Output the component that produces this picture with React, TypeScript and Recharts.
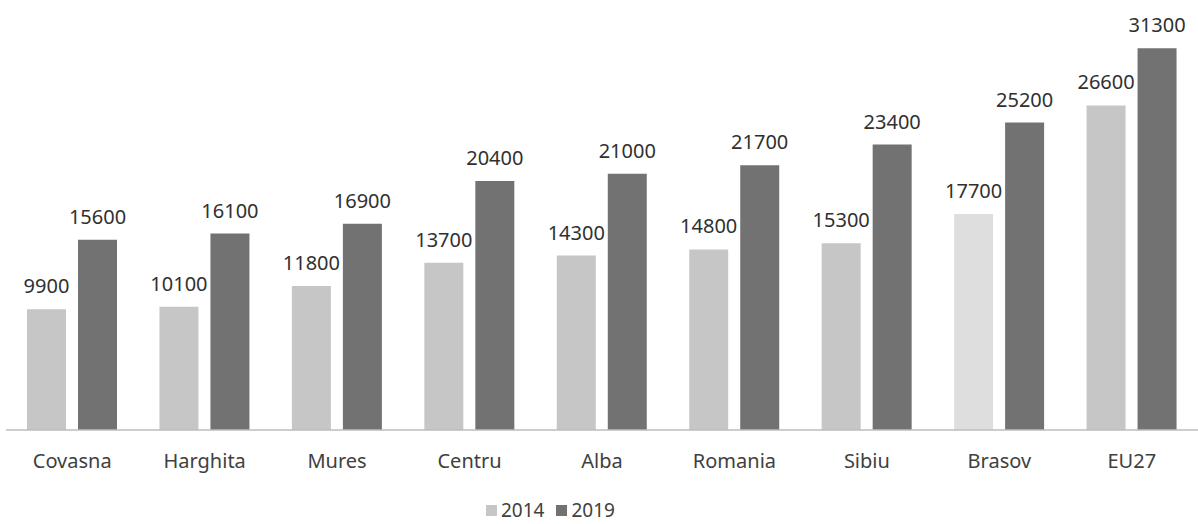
import React from "react";
import { BarChart, Bar, XAxis, YAxis, Legend, LabelList, Cell } from "recharts";

const categories = ["Covasna", "Harghita", "Mures", "Centru", "Alba", "Romania", "Sibiu", "Brasov", "EU27"];
const values2014 = [9900, 10100, 11800, 13700, 14300, 14800, 15300, 17700, 26600];
const values2019 = [15600, 16100, 16900, 20400, 21000, 21700, 23400, 25200, 31300];

const data = categories.map((c, i) => ({ name: c, y2014: values2014[i], y2019: values2019[i] }));

const FONT = "'Noto Sans', 'Open Sans', sans-serif";
const C2014 = "#c6c6c6";
const C2019 = "#727272";
const lightCols2014 = categories.map((c) => (c === "Brasov" ? "#dedede" : C2014));

const LegendContent = () => (
  <div
    style={{
      display: "flex",
      alignItems: "center",
      height: 20,
      lineHeight: "20px",
      fontFamily: FONT,
      fontSize: 19,
      color: "#404040",
    }}
  >
    <span style={{ display: "inline-block", width: 11, height: 11, background: C2014, marginRight: 4 }} />
    <span style={{ marginRight: 12 }}>2014</span>
    <span style={{ display: "inline-block", width: 11, height: 11, background: C2019, marginRight: 4 }} />
    <span>2019</span>
  </div>
);

export default function App() {
  return (
    <div style={{ position: "absolute", left: 0, top: 0, background: "#fff" }}>
      <BarChart
        width={1198}
        height={524}
        data={data}
        margin={{ top: 3, right: 0, left: 6, bottom: 0 }}
        barSize={39}
        barGap={12}
      >
        <XAxis
          dataKey="name"
          axisLine={{ stroke: "#bdbdbd", strokeWidth: 1.5 }}
          tickLine={false}
          tickMargin={18}
          height={74}
          tick={{ fill: "#404040", fontSize: 20, fontFamily: FONT }}
        />
        <YAxis hide domain={[0, 35000]} />
        <Legend
          verticalAlign="bottom"
          content={<LegendContent />}
          wrapperStyle={{ left: 486, top: 500, width: "auto", height: 20, bottom: "auto" }}
        />
        <Bar dataKey="y2014" fill={C2014} isAnimationActive={false}>
          {lightCols2014.map((col, i) => (
            <Cell key={i} fill={col} />
          ))}
          <LabelList
            dataKey="y2014"
            position="top"
            offset={16}
            style={{ fill: "#303030", fontSize: 20, fontFamily: FONT }}
          />
        </Bar>
        <Bar dataKey="y2019" fill={C2019} isAnimationActive={false}>
          <LabelList
            dataKey="y2019"
            position="top"
            offset={16}
            style={{ fill: "#303030", fontSize: 20, fontFamily: FONT }}
          />
        </Bar>
      </BarChart>
    </div>
  );
}
